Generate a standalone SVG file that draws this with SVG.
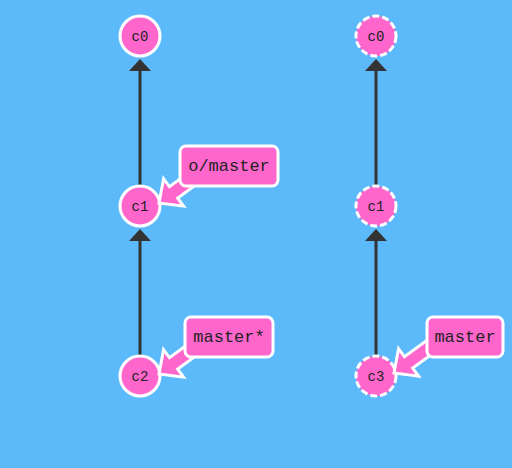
<svg xmlns="http://www.w3.org/2000/svg" width="512" height="468" viewBox="0 0 512 468">
<style>
.bg{fill:#5cbafb}
.commit{fill:#ff66cc;stroke:#fff;stroke-width:3}
.dashed{stroke-dasharray:7,3}
.ctext{font-family:"Liberation Mono",monospace;font-size:14px;fill:#222;text-anchor:middle}
.edge{stroke:#333;stroke-width:3;fill:none}
.head{fill:#333}
.btag{fill:#ff66cc;stroke:#fff;stroke-width:3}
.btext{font-family:"Liberation Mono",monospace;font-size:17px;fill:#222;text-anchor:middle}
</style>
<defs>
<polygon id="barrow" points="0,0 18,-17 18,-7 48,-7 48,7 18,7 18,17"/>
</defs>
<rect class="bg" x="0" y="0" width="512" height="468"/>
<g id="connectors">
<line class="edge" x1="140" y1="186" x2="140" y2="70"/>
<polygon class="head" points="140,59 129,71 151,71"/>
<line class="edge" x1="140" y1="356" x2="140" y2="240"/>
<polygon class="head" points="140,229 129,241 151,241"/>
<line class="edge" x1="376" y1="186" x2="376" y2="70"/>
<polygon class="head" points="376,59 365,71 387,71"/>
<line class="edge" x1="376" y1="356" x2="376" y2="240"/>
<polygon class="head" points="376,229 365,241 387,241"/>
</g>
<g id="c0-left"><circle class="commit" cx="140" cy="36" r="20"/><text class="ctext" x="140" y="41">c0</text></g>
<g id="c1-left"><circle class="commit" cx="140" cy="206" r="20"/><text class="ctext" x="140" y="211">c1</text></g>
<g id="c2-left"><circle class="commit" cx="140" cy="376" r="20"/><text class="ctext" x="140" y="381">c2</text></g>
<g id="c0-right"><circle class="commit dashed" cx="376" cy="36" r="20"/><text class="ctext" x="376" y="41">c0</text></g>
<g id="c1-right"><circle class="commit dashed" cx="376" cy="206" r="20"/><text class="ctext" x="376" y="211">c1</text></g>
<g id="c3-right"><circle class="commit dashed" cx="376" cy="376" r="20"/><text class="ctext" x="376" y="381">c3</text></g>
<g id="o-master">
<use href="#barrow" class="btag" transform="translate(159,203) rotate(-36)"/>
<rect class="btag" x="180" y="146" width="98" height="40" rx="6"/>
<text class="btext" x="229" y="171">o/master</text>
</g>
<g id="master-left">
<use href="#barrow" class="btag" transform="translate(159,374) rotate(-36)"/>
<rect class="btag" x="185" y="317" width="88" height="40" rx="6"/>
<text class="btext" x="229" y="342">master*</text>
</g>
<g id="master-right">
<use href="#barrow" class="btag" transform="translate(394,373) rotate(-36)"/>
<rect class="btag" x="427" y="317" width="76" height="40" rx="6"/>
<text class="btext" x="465" y="342">master</text>
</g>
</svg>
